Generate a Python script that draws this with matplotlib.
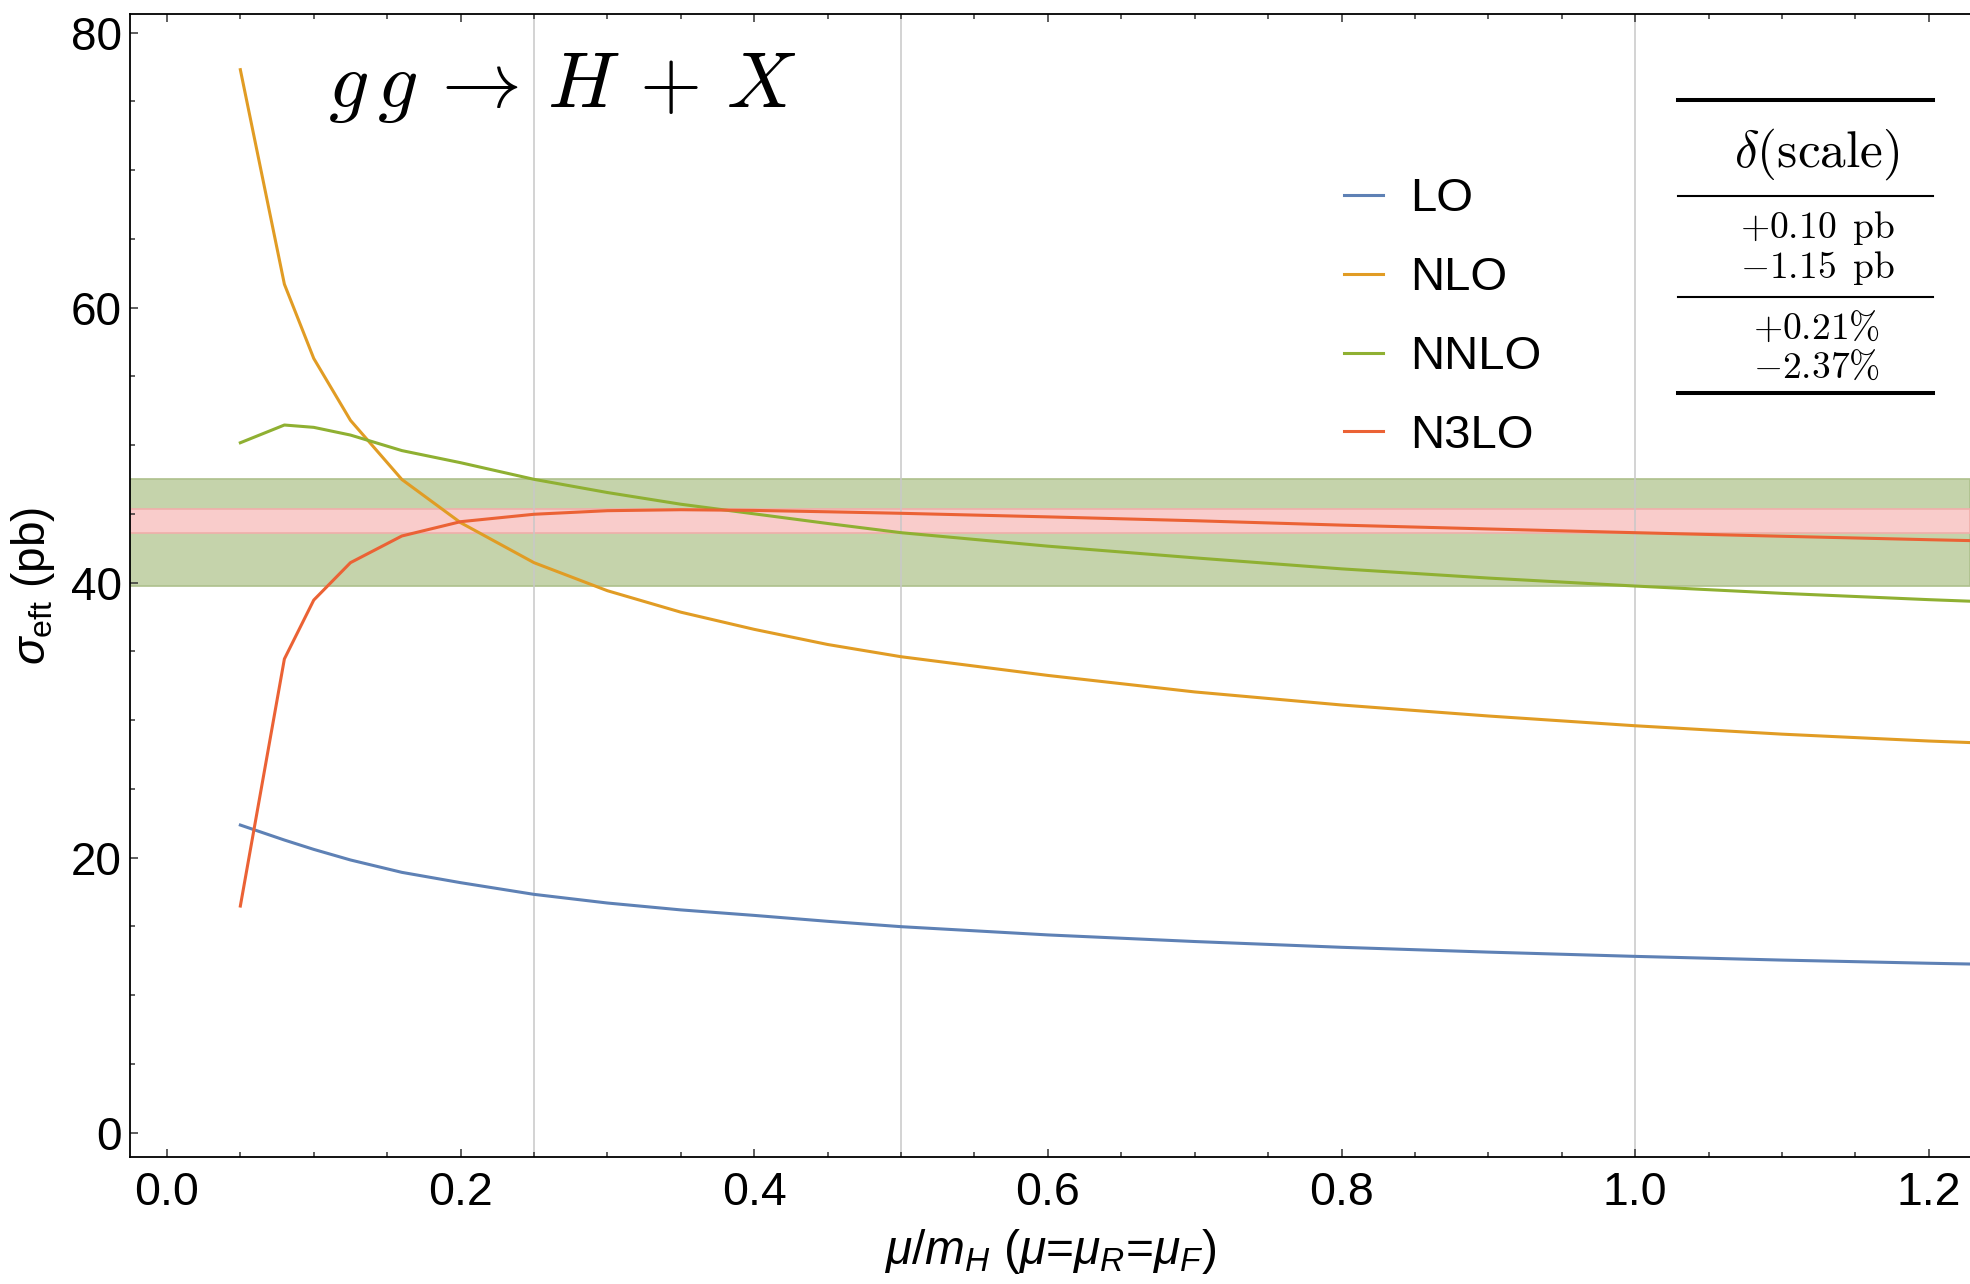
import numpy as np
import matplotlib
matplotlib.use("Agg")
import matplotlib.pyplot as plt
from matplotlib.lines import Line2D
from matplotlib.ticker import MultipleLocator

plt.rcParams['font.family'] = ['Liberation Sans', 'DejaVu Sans']
plt.rcParams['mathtext.fontset'] = 'custom'
plt.rcParams['mathtext.rm'] = 'Liberation Sans'
plt.rcParams['mathtext.it'] = 'Liberation Sans:italic'
plt.rcParams['mathtext.bf'] = 'Liberation Sans:bold'

# scale mu/mH
mu = [0.05, 0.08, 0.1, 0.125, 0.16, 0.2, 0.25, 0.3, 0.35, 0.4, 0.45, 0.5,
      0.6, 0.7, 0.8, 0.9, 1.0, 1.1, 1.2, 1.23]

# cross sections (pb)
lo = [22.37, 21.28, 20.6, 19.83, 18.93, 18.18, 17.33, 16.7, 16.2, 15.8, 15.37, 14.98,
      14.38, 13.9, 13.48, 13.13, 12.82, 12.55, 12.32, 12.26]
nlo = [77.3, 61.7, 56.3, 51.8, 47.5, 44.36, 41.45, 39.41, 37.85, 36.6, 35.5, 34.61,
       33.25, 32.05, 31.1, 30.3, 29.59, 28.98, 28.48, 28.36]
nnlo = [50.17, 51.46, 51.29, 50.73, 49.6, 48.72, 47.51, 46.55, 45.7, 45.0, 44.3, 43.63,
        42.65, 41.8, 41.0, 40.33, 39.75, 39.22, 38.76, 38.64]
n3lo = [16.48, 34.45, 38.73, 41.45, 43.39, 44.43, 44.97, 45.23, 45.3, 45.25, 45.15, 45.04,
        44.78, 44.5, 44.18, 43.9, 43.63, 43.37, 43.12, 43.05]

# scale bands mu in [mH/4, mH]
nnlo_band = (39.77, 47.52)
n3lo_band = (43.59, 45.33)

labels = ["LO", "NLO", "NNLO", "N3LO"]
colors = ["#5E81B5", "#E19C24", "#8FB032", "#EB6235"]

table_head = r"$\delta(\mathrm{scale})$"
table_pb = [r"$+0.10\ \,\mathrm{pb}$", r"$-1.15\ \,\mathrm{pb}$"]
table_pc = [r"$+0.21\%$", r"$-2.37\%$"]

fig = plt.figure(figsize=(19.7, 12.84), dpi=100)
ax = fig.add_axes([0.0661, 0.0989, 1 - 0.0661, 0.9889 - 0.0989])

ax.axhspan(*nnlo_band, facecolor="#C5D3AB", edgecolor="#AEC08C", lw=1.2, zorder=1)
ax.axhspan(*n3lo_band, facecolor="#F9CCCB", edgecolor="#F0AEAA", lw=1.2, zorder=1.1)

for xv in [0.25, 0.5, 1.0]:
    ax.axvline(xv, color="#c8c8c8", lw=1.1, zorder=1.5)

lines = []
for ys, c in zip([lo, nlo, nnlo, n3lo], colors):
    l, = ax.plot(mu, ys, color=c, lw=2.2, zorder=3)
    lines.append(l)

ax.set_xlim(-0.025, 1.228)
ax.set_ylim(-1.77, 81.33)
ax.xaxis.set_major_locator(MultipleLocator(0.2))
ax.xaxis.set_minor_locator(MultipleLocator(0.05))
ax.yaxis.set_major_locator(MultipleLocator(20))
ax.yaxis.set_minor_locator(MultipleLocator(5))
ax.xaxis.set_major_formatter(matplotlib.ticker.FormatStrFormatter('%.1f'))
ax.tick_params(which='both', direction='in', top=True, right=False, width=1.1,
               color='#333333')
ax.tick_params(which='major', length=6)
ax.tick_params(which='minor', length=3.5)
ax.tick_params(axis='x', pad=10, labelsize=33.5)
ax.tick_params(axis='y', pad=6, labelsize=33)
for s in ['left', 'bottom', 'top']:
    ax.spines[s].set_linewidth(1.3)
ax.spines['right'].set_visible(False)

ax.set_xlabel(r"$\mu/m_H$ ($\mu$=$\mu_R$=$\mu_F$)", fontsize=34.5, labelpad=9)
ax.set_ylabel(r"$\sigma_{\mathrm{eft}}$ (pb)", fontsize=33, labelpad=10)

fig.text(0.1665, 0.9167, r"$g\,g \,\rightarrow\, H \,+\, X$", fontsize=57.5,
         math_fontfamily='cm', va='baseline', ha='left')

ax.legend(lines, labels, loc='upper left', bbox_to_anchor=(0.6822, 0.862),
          bbox_transform=fig.transFigure, frameon=False, fontsize=34,
          handlelength=0.83, handletextpad=0.57, labelspacing=0.74,
          borderpad=0, borderaxespad=0)

# scale uncertainty table
x0, x1, xc = 0.8518, 0.9812, 0.9223
for yv, w in [(0.9221, 2.9), (0.8474, 1.5), (0.7687, 1.5), (0.6939, 2.9)]:
    fig.add_artist(Line2D([x0, x1], [yv, yv], color='black', lw=w,
                          transform=fig.transFigure))
fig.text(xc, 0.880, table_head, fontsize=37, math_fontfamily='cm',
         ha='center', va='center')
for t, yv in zip(table_pb, [0.8224, 0.7916]):
    fig.text(xc, yv, t, fontsize=27, math_fontfamily='cm', ha='center', va='center')
for t, yv in zip(table_pc, [0.7436, 0.7134]):
    fig.text(xc, yv, t, fontsize=27, math_fontfamily='cm', ha='center', va='center')

fig.savefig("out.png", dpi=100)
